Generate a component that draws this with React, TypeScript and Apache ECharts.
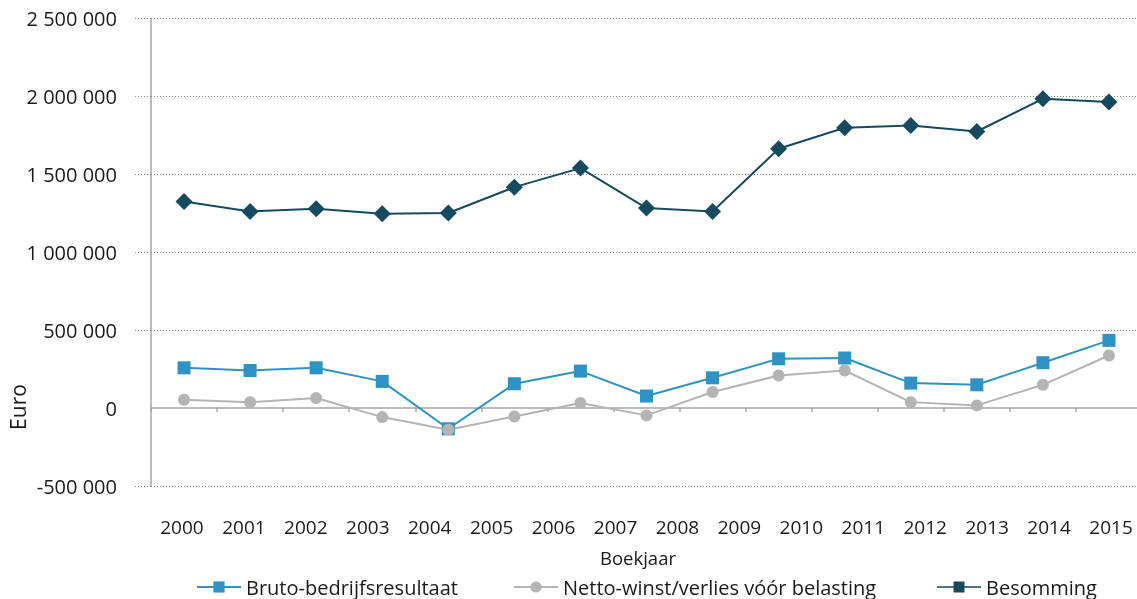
import React, { useEffect, useRef } from "react";
import * as echarts from "echarts";

const yearLabels = ["2000","2001","2002","2003","2004","2005","2006","2007","2008","2009","2010","2011","2012","2013","2014","2015"];
const pointKeys = yearLabels.slice(0, 15);

const brutoValues = [258000, 241000, 258000, 171000, -133000, 156000, 237000, 77000, 194000, 316000, 321000, 160000, 149000, 291000, 434000];
const nettoValues = [53000, 38000, 64000, -58000, -139000, -54000, 32000, -47000, 103000, 209000, 241000, 38000, 17000, 149000, 337000];
const besommingValues = [1325000, 1261000, 1278000, 1246000, 1251000, 1417000, 1539000, 1283000, 1261000, 1663000, 1798000, 1813000, 1774000, 1984000, 1963000];

const seriesNames = ["Bruto-bedrijfsresultaat", "Netto-winst/verlies vóór belasting", "Besomming"];
const yTickValues = [-500000, 0, 500000, 1000000, 1500000, 2000000, 2500000];

const FONT = "'Open Sans', 'Noto Sans', sans-serif";
const TEXT = "#1a1a1a";
const BLUE = "#2e93c4";
const GREY = "#b4b4b4";
const DARK = "#164a5e";

const fmt = (v: number) => String(v).replace(/\B(?=(\d{3})+(?!\d))/g, " ");

const legendBase = {
  top: 577,
  padding: 0,
  itemWidth: 44,
  itemHeight: 14,
  textStyle: { fontSize: 20, color: TEXT, fontFamily: FONT },
};

export default function App() {
  const ref = useRef<HTMLDivElement>(null);
  useEffect(() => {
    if (!ref.current) return;
    const chart = echarts.init(ref.current, undefined, { renderer: "svg" });
    chart.setOption({
      animation: false,
      textStyle: { fontFamily: FONT },
      grid: { left: 151, top: 18.3, right: -5, bottom: 113, containLabel: false, outerBoundsMode: "none" },
      legend: [
        { ...legendBase, left: 196, data: [{ name: seriesNames[0] }] },
        { ...legendBase, left: 513, data: [{ name: seriesNames[1] }] },
        {
          ...legendBase,
          left: 937,
          data: [{ name: seriesNames[2], icon: "path://M0,0L0,0M44,14L44,14M0,6.25h44v1.5H0zM16.5,1.5h11v11h-11z" }],
        },
      ],
      xAxis: [
        {
          type: "category",
          data: pointKeys,
          boundaryGap: true,
          position: "bottom",
          axisLine: { onZero: true, lineStyle: { color: "#a6a6a6", width: 1.5 } },
          axisTick: { show: true, inside: false, length: 4, lineStyle: { color: "#a6a6a6", width: 1.5 } },
          axisLabel: { show: false },
          splitLine: { show: false },
        },
        {
          type: "category",
          data: yearLabels,
          boundaryGap: true,
          position: "bottom",
          axisLine: { show: false, onZero: false },
          axisTick: { show: false },
          axisLabel: { show: true, margin: 31, fontSize: 19, color: TEXT, fontFamily: FONT },
          splitLine: { show: false },
        },
      ],
      yAxis: {
        type: "value",
        min: yTickValues[0],
        max: yTickValues[yTickValues.length - 1],
        interval: yTickValues[1] - yTickValues[0],
        axisLine: { show: true, lineStyle: { color: "#a6a6a6", width: 1.5 } },
        axisTick: {
          show: true,
          inside: false,
          length: 18,
          customValues: yTickValues.filter((v) => v !== 0),
          lineStyle: { color: "#8c8c8c", type: [1, 2], width: 1 },
        },
        axisLabel: { margin: 34, fontSize: 20, color: TEXT, fontFamily: FONT, formatter: (v: number) => fmt(v) },
        splitLine: { show: true, lineStyle: { color: "#8c8c8c", type: [1, 2], width: 1 } },
      },
      graphic: [
        {
          type: "text",
          x: 18,
          y: 407,
          rotation: Math.PI / 2,
          style: { text: "Euro", fontSize: 21, fill: TEXT, fontFamily: FONT, align: "center", verticalAlign: "middle" },
        },
        {
          type: "text",
          x: 638,
          y: 557,
          style: { text: "Boekjaar", fontSize: 18.5, fill: TEXT, fontFamily: FONT, align: "center", verticalAlign: "middle" },
        },
      ],
      series: [
        {
          name: seriesNames[0],
          type: "line",
          xAxisIndex: 0,
          data: brutoValues,
          symbol: "rect",
          symbolSize: 13,
          showAllSymbol: true,
          lineStyle: { color: BLUE, width: 2 },
          itemStyle: { color: BLUE },
        },
        {
          name: seriesNames[1],
          type: "line",
          xAxisIndex: 0,
          data: nettoValues,
          symbol: "circle",
          symbolSize: 12,
          showAllSymbol: true,
          lineStyle: { color: GREY, width: 2 },
          itemStyle: { color: GREY },
        },
        {
          name: seriesNames[2],
          type: "line",
          xAxisIndex: 0,
          data: besommingValues,
          symbol: "diamond",
          symbolSize: 17,
          showAllSymbol: true,
          lineStyle: { color: DARK, width: 2 },
          itemStyle: { color: DARK },
        },
      ],
    });
    return () => chart.dispose();
  }, []);
  return <div ref={ref} style={{ position: "fixed", left: 0, top: 0, width: 1137, height: 599 }} />;
}
